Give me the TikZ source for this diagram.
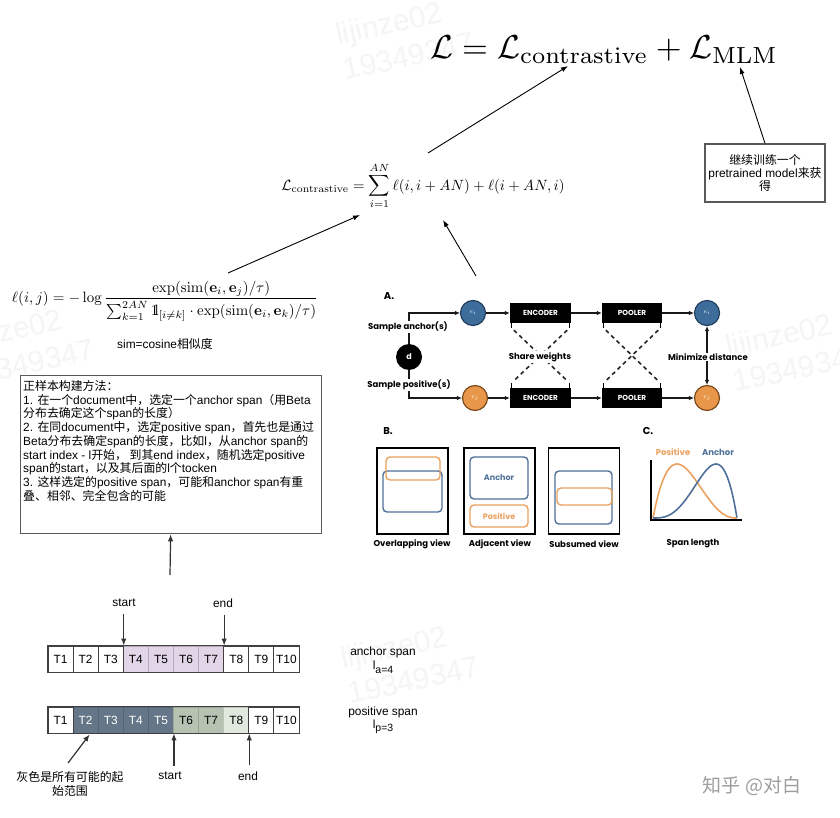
\documentclass[tikz,border=0pt]{standalone}
\usepackage[no-math]{fontspec}
\usepackage{amsmath,amssymb}
\usepackage{graphicx}
\usetikzlibrary{arrows.meta,calc}
\newfontfamily\latf{Liberation Sans}
\newfontfamily\cjk{Noto Sans CJK SC}
\newfontfamily\pop{Poppins}
\newcommand\C[1]{{\cjk #1}}
\definecolor{blueC}{HTML}{3E6D9C}
\definecolor{blueD}{HTML}{22405E}
\definecolor{orangeC}{HTML}{E8964A}
\definecolor{orangeD}{HTML}{7A4A1E}
\definecolor{blueL}{HTML}{4F7199}
\definecolor{orangeL}{HTML}{EBA15F}
\definecolor{purp}{HTML}{E1D5E7}
\definecolor{slate}{HTML}{647687}
\definecolor{sage}{HTML}{B6C3B2}
\definecolor{sagel}{HTML}{E1E8DE}
\begin{document}
\begin{tikzpicture}[x=1pt,y=-1pt,
  arrT/.style={-{Latex[length=7pt,width=5pt]}, line width=0.9pt, black},
  arrK/.style={-{Latex[length=7pt,width=5.5pt]}, line width=1.2pt, black!80},
  arrA/.style={-{Latex[length=5pt,width=4.5pt]}, line width=1.1pt, black!90},
  gbox/.style={draw=black!65, line width=1.3pt, fill=white},
  txt/.style={font=\latf\fontsize{11.9}{13.75}\selectfont, inner sep=0pt},
  lab/.style={font=\latf\fontsize{11.9}{14}\selectfont, inner sep=0pt, align=center},
  cell/.style={line width=0.9pt, minimum width=25.1pt, minimum height=26pt, inner sep=0pt, font=\latf\fontsize{11.9}{12}\selectfont},
  wm/.style={font=\latf\fontsize{30}{36}\selectfont, text=black!4, align=left, rotate=12, inner sep=0pt},
  blackbox/.style={fill=black, text=white, minimum height=20pt, inner sep=0pt, font=\pop\bfseries\fontsize{7.3}{8}\selectfont},
  bcirc/.style={circle, fill=blueC, draw=blueD, line width=1.2pt, minimum size=25pt, inner sep=0pt, text=white, font=\fontsize{6}{6}\selectfont},
  ocirc/.style={circle, fill=orangeC, draw=orangeD, line width=1.2pt, minimum size=25pt, inner sep=0pt, text=white, font=\fontsize{6}{6}\selectfont},
  popl/.style={font=\pop\bfseries\fontsize{8.5}{9}\selectfont, inner sep=1pt},
  panl/.style={font=\pop\bfseries\fontsize{10}{11}\selectfont, inner sep=0pt},
  dashX/.style={dash pattern=on 4pt off 3.5pt, line width=1.6pt, black!85},
  bview/.style={draw=black, line width=1.8pt, minimum width=71pt, minimum height=86pt, inner sep=0pt},
  rb/.style={draw=blueL, line width=1.4pt, rounded corners=4pt},
  ro/.style={draw=orangeL, line width=1.4pt, rounded corners=4pt}
]
\fill[white] (0,0) rectangle (840,818);
\useasboundingbox (0,0) rectangle (840,818);

% watermarks
\node[wm] (wm1) at (405,38) {lijinze02\\19349347};
\node[wm] (wm2) at (25,345) {lijinze02\\19349347};
\node[wm] (wm3) at (795,350) {lijinze02\\19349347};
\node[wm] (wm4) at (410,662) {lijinze02\\19349347};

% formulas
\node (fmain) at (604,50) {\resizebox{348pt}{!}{$\mathcal{L}=\mathcal{L}_{\mathrm{contrastive}}+\mathcal{L}_{\mathrm{MLM}}$}};
\node (fcon) at (423,186) {\resizebox{283pt}{!}{$\displaystyle \mathcal{L}_{\mathrm{contrastive}}=\sum_{i=1}^{AN}\ell(i,i+AN)+\ell(i+AN,i)$}};
\node (fell) at (165,301) {\resizebox{306pt}{!}{$\displaystyle \ell(i,j)=-\log\frac{\exp(\mathrm{sim}(\mathbf{e}_i,\mathbf{e}_j)/\tau)}{\sum_{k=1}^{2AN}\mathrm{1\kern-.25em l}_{[i\neq k]}\cdot\exp(\mathrm{sim}(\mathbf{e}_i,\mathbf{e}_k)/\tau)}$}};
\node[lab] (simc) at (165,344) {sim=cosine\C{相似度}};

% box top right
\node[gbox, minimum width=120pt, minimum height=58pt, align=center, inner sep=0pt, font=\latf\fontsize{11.9}{13.3}\selectfont] (kbox) at (765,173) {\C{继续训练一个}\\pretrained model\C{来获}\\\C{得}};

% top arrows
\coordinate (p1) at (428,153); \coordinate (q1) at (568,66);
\draw[arrT] (p1) -- (q1);
\coordinate (q2) at (740,67);
\draw[arrT] (kbox.north) -- (q2);
\coordinate (p3) at (228,273); \coordinate (q3) at (360,215);
\draw[arrT] (p3) -- (q3);
\coordinate (p4) at (476,276); \coordinate (q4) at (443,220);
\draw[arrT] (p4) -- (q4);

% text box
\node[gbox, minimum width=301pt, minimum height=158pt, anchor=north west] (tbox) at (19.5,375) {};
\node[txt, anchor=north west, align=left] (ttext) at (23,380) {\C{正样本构建方法：}\\
1. \C{在一个}document\C{中，选定一个}anchor span\C{（用}Beta\\
\C{分布去确定这个}span\C{的长度）}\\
2. \C{在同}document\C{中，选定}positive span\C{，首先也是通过}\\
Beta\C{分布去确定}span\C{的长度，比如}l\C{，从}anchor span\C{的}\\
start index - l\C{开始， 到其}end index\C{，随机选定}positive\\
span\C{的}start\C{，以及其后面的}l\C{个}tocken\\
3. \C{这样选定的}positive span\C{，可能和}anchor span\C{有重}\\
\C{叠、相邻、完全包含的可能}};
\coordinate (p5) at (170,575);
\draw[arrK] (p5) -- (tbox.south);

% ===== Panel A =====
\node[panl] (lA) at (389,296) {A.};
\node[circle, fill=black, minimum size=26pt, inner sep=0pt, text=white, font=\pop\bfseries\fontsize{8}{8}\selectfont] (d) at (409,357) {d};
\node[bcirc] (ei) at (473,313) {$e_i$};
\node[ocirc] (ej) at (475,398) {$e_j$};
\node[blackbox, minimum width=61pt] (enc1) at (540.5,313) {ENCODER};
\node[blackbox, minimum width=60pt] (pool1) at (632,313) {POOLER};
\node[bcirc] (ei2) at (707,313) {$e_i$};
\node[blackbox, minimum width=61pt] (enc2) at (540.5,398) {ENCODER};
\node[blackbox, minimum width=60pt] (pool2) at (632,398) {POOLER};
\node[ocirc] (ej2) at (707,398) {$e_j$};
\draw[arrA] (d.north) |- (ei.west);
\draw[arrA] (d.south) |- (ej.west);
\draw[arrA] (ei) -- (enc1);
\draw[arrA] (enc1) -- (pool1);
\draw[arrA] (pool1) -- (ei2);
\draw[arrA] (ej) -- (enc2);
\draw[arrA] (enc2) -- (pool2);
\draw[arrA] (pool2) -- (ej2);
\draw[{Latex[length=5pt,width=4.5pt]}-{Latex[length=5pt,width=4.5pt]}, line width=1.1pt, black!90] (ei2) -- (ej2);
% brackets
\foreach \b in {enc1,pool1}{
  \draw[line width=1.3pt] ($(\b.south west)+(2,0)$) -- ++(0,5);
  \draw[line width=1.3pt] ($(\b.south east)+(-2,0)$) -- ++(0,5);
}
\foreach \b in {enc2,pool2}{
  \draw[line width=1.3pt] ($(\b.north west)+(2,0)$) -- ++(0,-5);
  \draw[line width=1.3pt] ($(\b.north east)+(-2,0)$) -- ++(0,-5);
}
\draw[dashX] ($(enc1.south west)+(4,7)$) -- ($(enc2.north east)+(-4,-7)$);
\draw[dashX] ($(enc1.south east)+(-4,7)$) -- ($(enc2.north west)+(4,-7)$);
\draw[dashX] ($(pool1.south west)+(4,7)$) -- ($(pool2.north east)+(-4,-7)$);
\draw[dashX] ($(pool1.south east)+(-4,7)$) -- ($(pool2.north west)+(4,-7)$);
\node[popl, fill=white] (sa) at (408,327) {Sample anchor(s)};
\node[popl, fill=white] (sp) at (409,385) {Sample positive(s)};
\node[popl, fill=white] (sw) at (540,357) {Share weights};
\node[popl, fill=white] (md) at (708,357) {Minimize distance};

% ===== Panel B =====
\node[panl] (lB) at (388,431) {B.};
\node[bview] (v1) at (412.5,491) {};
\node[bview] (v2) at (499.5,491) {};
\node[bview] (v3) at (584,491) {};
\draw[rb] (383,471) rectangle (442,512);
\draw[ro] (386,457) rectangle (440,480);
\node[rb, minimum width=58pt, minimum height=42pt, inner sep=0pt, text=blueL, font=\pop\bfseries\fontsize{8}{8}\selectfont] (anc) at (499,478) {Anchor};
\node[ro, minimum width=58pt, minimum height=22pt, inner sep=0pt, text=orangeL, font=\pop\bfseries\fontsize{8}{8}\selectfont] (pos) at (499,516) {Positive};
\draw[rb] (555,471) rectangle (612,524);
\draw[ro] (557,488) rectangle (612,505);
\node[popl] (t1) at (412,544) {Overlapping view};
\node[popl] (t2) at (500,544) {Adjacent view};
\node[popl] (t3) at (584,544) {Subsumed view};

% ===== Panel C =====
\node[panl] (lC) at (648,431) {C.};
\draw[orangeL, line width=1.6pt] plot[domain=0:1, samples=70] ({653+84*\x}, {518-54*(\x*(1-\x)^2*sqrt(1-\x))/0.1232});
\draw[blueL, line width=1.6pt] plot[domain=0:1, samples=70] ({653+84*\x}, {518-54*(\x^3*(1-\x))/0.10547});
\draw[line width=1.6pt] (651,460) -- (651,520) -- (742,520);
\node[popl, text=orangeL] (cp) at (673,452) {Positive};
\node[popl, text=blueL] (ca) at (718,452) {Anchor};
\node[popl] (t4) at (693,544) {Span length};

% ===== tokens =====
\foreach \i/\fc in {4/purp,5/purp,6/purp,7/purp}{
  \node[cell, fill=\fc, draw=\fc!80!black] (a\i) at ({48+25.1*(\i-0.5)},659) {T\i};
}
\foreach \i in {1,2,3,8,9,10}{
  \node[cell, fill=white, draw=black!75] (a\i) at ({48+25.1*(\i-0.5)},659) {T\i};
}
\foreach \i/\fc/\tc in {2/slate/white,3/slate/white,4/slate/white,5/slate/white,6/sage/black,7/sage/black,8/sagel/black}{
  \node[cell, fill=\fc, draw=\fc!85!black, text=\tc] (b\i) at ({48+25.1*(\i-0.5)},720) {T\i};
}
\foreach \i in {1,9,10}{
  \node[cell, fill=white, draw=black!75] (b\i) at ({48+25.1*(\i-0.5)},720) {T\i};
}
\draw[black!75, line width=0.9pt] (a1.north west) rectangle (a10.south east);
\draw[black!75, line width=0.9pt] (b1.north west) rectangle (b10.south east);

\node[lab] (s1) at (124,603) {start};
\node[lab] (e1) at (223,603) {end};
\draw[arrK] ($(a3.north east |- s1.south)+(0,7)$) -- (a3.north east);
\draw[arrK] ($(a7.north east |- e1.south)+(0,7)$) -- (a7.north east);
\node[lab] (s2) at (170,776) {start};
\node[lab] (e2) at (248,776) {end};
\draw[arrK] ($(b5.south east |- s2.north)+(0,-6)$) -- (b5.south east);
\draw[arrK] ($(b8.south east |- e2.north)+(0,-6)$) -- (b8.south east);
\node[lab] (gr) at (70,784) {\C{灰色是所有可能的起}\\\C{始范围}};
\coordinate (gt) at (68,763);
\coordinate (gh) at ($(b2.south)+(4,1)$);
\draw[arrK] (gt) -- (gh);

\node[lab] (asp) at (383,652) {anchor span};
\node[lab] (la) at (383,667) {l{\fontsize{10.5}{11}\selectfont\raisebox{-3.5pt}{a=4}}};
\node[lab] (psp) at (383,712) {positive span};
\node[lab] (lp) at (383,727) {l{\fontsize{10.5}{11}\selectfont\raisebox{-3.5pt}{p=3}}};

% signature
\node[font=\cjk\fontsize{19}{20}\selectfont, text=black!38, inner sep=0pt] (sig) at (752,786) {知乎 @对白};
\end{tikzpicture}
\end{document}
